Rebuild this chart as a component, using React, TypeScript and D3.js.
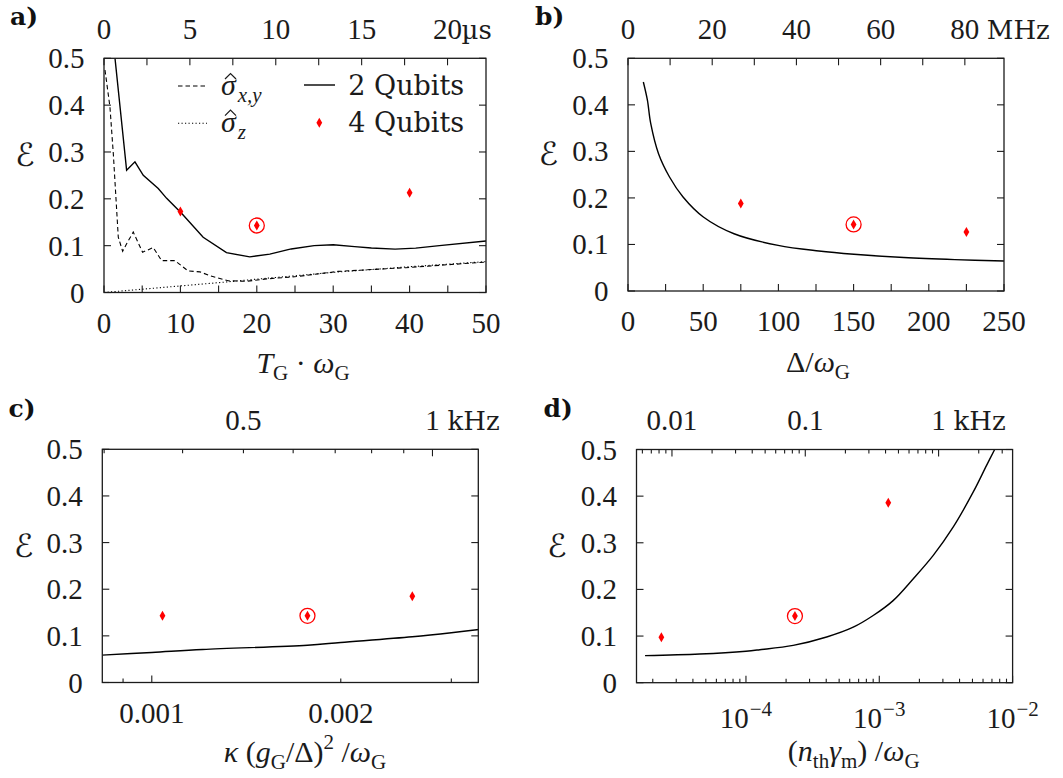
import { useEffect, useRef } from "react";
import * as d3 from "d3";

// ---------- a) error vs gate time ----------
const gateTimes2q = [1.44, 2.96, 4.05, 5.14, 7.1, 8.2, 10.15, 12.98, 16.03, 19.08, 21.7, 24.5, 27.5, 30, 32.8, 35, 38.1, 40.8, 43.9, 50];
const err2q = [0.5, 0.261, 0.279, 0.25, 0.222, 0.201, 0.169, 0.118, 0.085, 0.076, 0.082, 0.093, 0.1, 0.102, 0.098, 0.095, 0.0925, 0.0947, 0.1, 0.11];
const gateTimesXY = [0.13, 0.78, 1.22, 1.87, 2.44, 2.96, 3.83, 5.05, 6.45, 7.54, 9.28, 11.02, 12.55, 13.86, 16.25, 18.65, 21.26, 25.2, 30.6, 39.5, 50];
const errXY = [0.475, 0.396, 0.296, 0.118, 0.088, 0.104, 0.129, 0.086, 0.096, 0.068, 0.068, 0.046, 0.044, 0.036, 0.025, 0.024, 0.029, 0.034, 0.045, 0.053, 0.065];
const gateTimesZ = [0, 5, 10, 15, 20, 30, 40, 50];
const errZ = [0, 0.007, 0.014, 0.021, 0.0285, 0.043, 0.055, 0.066];
const gateTimes4q = [10, 20, 40];
const err4qA = [0.173, 0.143, 0.213];
const gateTicks = [0, 5, 10, 15, 20, 25, 30, 35, 40, 45, 50];
const gateLabels = [0, 10, 20, 30, 40, 50];
const usTicks = [0, 2.5, 5, 7.5, 10, 12.5, 15, 17.5, 20];
const usLabels = [0, 5, 10, 15, 20];

// ---------- b) error vs detuning ----------
const detuning = [10.2, 12.9, 15.1, 20.3, 27.6, 36.6, 50.1, 70.5, 99.8, 126.9, 150.2, 183.4, 217.3, 250];
const errDet = [0.449, 0.41, 0.36, 0.295, 0.245, 0.202, 0.159, 0.123, 0.098, 0.086, 0.079, 0.072, 0.0675, 0.0645];
const detuning4q = [75, 150, 225];
const err4qB = [0.188, 0.143, 0.127];
const detTicks = [0, 25, 50, 75, 100, 125, 150, 175, 200, 225, 250];
const detLabels = [0, 50, 100, 150, 200, 250];
const mhzTicks = [0, 10, 20, 30, 40, 50, 60, 70, 80];
const mhzLabels = [0, 20, 40, 60, 80];

// ---------- c) error vs cavity decay ----------
const kappa = [0.000832, 0.001, 0.001205, 0.00177, 0.002, 0.0026, 0.003, 0.00332];
const errKappa = [0.0587, 0.0644, 0.0708, 0.08, 0.0858, 0.098, 0.1066, 0.1137];
const kappa4q = [0.00104, 0.00177, 0.0026];
const err4qC = [0.143, 0.143, 0.185];
const kappaMajor = [0.001];
const kappaMinor = [0.0009, 0.002, 0.003];
const kappaLabels = ["0.001", "0.002"];
const khzCMajor = [1];
const khzCMinor = [0.3, 0.4, 0.5, 0.6, 0.7, 0.8, 0.9];

// ---------- d) error vs thermal heating ----------
const heating = [1.75e-5, 4.5e-5, 1e-4, 1.27e-4, 2.26e-4, 4.03e-4, 6.38e-4, 9e-4, 1.27e-3, 1.8e-3, 2.54e-3, 3.59e-3, 5.07e-3, 6.38e-3, 7.37e-3];
const errHeat = [0.058, 0.0615, 0.0675, 0.0707, 0.08, 0.098, 0.119, 0.144, 0.176, 0.223, 0.273, 0.334, 0.409, 0.466, 0.501];
const heating4q = [2.32e-5, 2.33e-4, 1.168e-3];
const err4qD = [0.0974, 0.1429, 0.386];
const heatMajor = [1e-4, 1e-3, 1e-2];
const heatExp = ["−4", "−3", "−2"];
const khzDMajor = [0.01, 0.1, 1];
const khzDLabels = ["0.01", "0.1"];

const errTicks = [0, 0.1, 0.2, 0.3, 0.4, 0.5];

const INK = "#1b1b1b";
const RED = "#ff0000";
const NUM = "'Liberation Serif', 'Times New Roman', serif";
const WORD = "'DejaVu Serif', serif";

type Box = { l: number; r: number; t: number; b: number };
const boxA: Box = { l: 104, r: 486, t: 58.3, b: 292.5 };
const boxB: Box = { l: 628, r: 1004, t: 58.3, b: 291 };
const boxC: Box = { l: 102.3, r: 478.3, t: 449.3, b: 682.5 };
const boxD: Box = { l: 636.5, r: 1012.6, t: 449.5, b: 682.7 };

const logMinors = (lo: number, hi: number) => {
  const out: number[] = [];
  for (let e = Math.floor(Math.log10(lo)); e <= Math.ceil(Math.log10(hi)); e++) {
    for (let k = 2; k <= 9; k++) {
      const v = k * Math.pow(10, e);
      if (v > lo && v < hi) out.push(v);
    }
  }
  return out;
};

function num(g: any, x: number, y: number, s: string, anchor = "middle") {
  return g
    .append("text")
    .attr("x", x)
    .attr("y", y)
    .attr("text-anchor", anchor)
    .attr("font-family", NUM)
    .attr("font-size", 29)
    .attr("fill", INK)
    .text(s);
}

function word(g: any, x: number, y: number, s: string, size = 26) {
  return g
    .append("text")
    .attr("x", x)
    .attr("y", y)
    .attr("font-family", WORD)
    .attr("font-size", size)
    .attr("fill", INK)
    .text(s);
}

function ticksX(g: any, scale: any, values: number[], box: Box, side: "top" | "bottom", len: number) {
  values.forEach((v) => {
    const px = scale(v);
    const y0 = side === "bottom" ? box.b : box.t;
    const y1 = side === "bottom" ? box.b - len : box.t + len;
    g.append("line")
      .attr("x1", px).attr("x2", px).attr("y1", y0).attr("y2", y1)
      .attr("stroke", INK).attr("stroke-width", 1.1);
  });
}

function base(svg: any, id: string, box: Box, y: any, letter: string, letterPos: [number, number], epsPos: [number, number]) {
  const g = svg.append("g");
  g.append("clipPath")
    .attr("id", id)
    .append("rect")
    .attr("x", box.l).attr("y", box.t)
    .attr("width", box.r - box.l).attr("height", box.b - box.t);

  errTicks.forEach((v) => {
    g.append("line").attr("x1", box.l).attr("x2", box.l + 7).attr("y1", y(v)).attr("y2", y(v))
      .attr("stroke", INK).attr("stroke-width", 1.1);
    g.append("line").attr("x1", box.r).attr("x2", box.r - 7).attr("y1", y(v)).attr("y2", y(v))
      .attr("stroke", INK).attr("stroke-width", 1.1);
    num(g, box.l - 19.5, y(v), v === 0 ? "0" : d3.format(".1f")(v), "end").attr("dominant-baseline", "central");
  });

  g.append("text")
    .attr("x", letterPos[0]).attr("y", letterPos[1])
    .attr("font-family", WORD).attr("font-weight", "bold").attr("font-size", 25)
    .attr("fill", "#111").text(letter);

  g.append("text")
    .attr("x", epsPos[0]).attr("y", epsPos[1])
    .attr("text-anchor", "middle").attr("dominant-baseline", "central")
    .attr("font-family", "'DejaVu Serif', 'DejaVu Sans', serif").attr("font-size", 32)
    .attr("fill", INK).text("ℰ");
  return g;
}

function frame(g: any, box: Box) {
  g.append("rect")
    .attr("x", box.l).attr("y", box.t)
    .attr("width", box.r - box.l).attr("height", box.b - box.t)
    .attr("fill", "none").attr("stroke", INK).attr("stroke-width", 1.3);
}

function curve(g: any, id: string, x: any, y: any, xs: number[], ys: number[], smooth: boolean, dash?: string, width = 1.4) {
  const line = d3
    .line<number>()
    .x((d, i) => x(xs[i]))
    .y((d) => y(d))
    .curve(smooth ? d3.curveCatmullRom.alpha(0.5) : d3.curveLinear);
  const p = g.append("path")
    .attr("d", line(ys))
    .attr("fill", "none")
    .attr("stroke", "#000")
    .attr("stroke-width", width)
    .attr("clip-path", `url(#${id})`);
  if (dash) p.attr("stroke-dasharray", dash);
}

function diamonds(g: any, x: any, y: any, xs: number[], ys: number[], circled: number) {
  const sym = d3.symbol().type(d3.symbolDiamond).size(29);
  xs.forEach((v, i) => {
    g.append("path")
      .attr("d", sym())
      .attr("transform", `translate(${x(v)},${y(ys[i])})`)
      .attr("fill", RED);
    if (i === circled) {
      g.append("circle")
        .attr("cx", x(v)).attr("cy", y(ys[i])).attr("r", 7.5)
        .attr("fill", "none").attr("stroke", RED).attr("stroke-width", 1.3);
    }
  });
}

function mathLabel(g: any, cx: number, y: number, parts: [string, string][]) {
  const t = g.append("text")
    .attr("x", cx).attr("y", y)
    .attr("text-anchor", "middle")
    .attr("font-family", NUM).attr("font-size", 30).attr("fill", INK);
  let shift = 0;
  parts.forEach(([k, s]) => {
    const sp = t.append("tspan").text(s);
    let target = 0;
    let size = 30;
    if (k === "sub") { target = 7; size = 21; }
    if (k === "sup") { target = -13; size = 21; }
    if (k === "i") sp.attr("font-style", "italic");
    sp.attr("font-size", size);
    if (target !== shift) { sp.attr("dy", target - shift); shift = target; }
  });
}

function drawA(svg: any) {
  const box = boxA;
  const x = d3.scaleLinear().domain([0, 50]).range([box.l, box.r]);
  const xTop = d3.scaleLinear().domain([0, 22.24]).range([box.l, box.r]);
  const y = d3.scaleLinear().domain([0, 0.5]).range([box.b, box.t]);
  const g = base(svg, "clipA", box, y, "a)", [10, 25], [25, 155]);

  ticksX(g, x, gateTicks, box, "bottom", 7);
  ticksX(g, xTop, usTicks, box, "top", 7);
  gateLabels.forEach((v) => num(g, x(v), box.b + 40.5, String(v)));
  usLabels.forEach((v) => num(g, xTop(v), box.t - 19.3, String(v)));
  word(g, xTop(20) + 14, box.t - 19.3, "µs");

  curve(g, "clipA", x, y, gateTimesZ, errZ, false, "1.2,2.3", 1.1);
  curve(g, "clipA", x, y, gateTimesXY, errXY, false, "4.5,3", 1.1);
  curve(g, "clipA", x, y, gateTimes2q, err2q, false);
  diamonds(g, x, y, gateTimes4q, err4qA, 1);

  // legend
  g.append("line").attr("x1", 178).attr("x2", 208).attr("y1", 86).attr("y2", 86)
    .attr("stroke", "#000").attr("stroke-width", 1.1).attr("stroke-dasharray", "4.5,3");
  g.append("line").attr("x1", 178).attr("x2", 207).attr("y1", 123.3).attr("y2", 123.3)
    .attr("stroke", "#000").attr("stroke-width", 1.1).attr("stroke-dasharray", "1.2,2.3");
  g.append("line").attr("x1", 304).attr("x2", 335).attr("y1", 85).attr("y2", 85)
    .attr("stroke", "#000").attr("stroke-width", 1.4);
  g.append("path")
    .attr("d", d3.symbol().type(d3.symbolDiamond).size(29)())
    .attr("transform", "translate(319.3,122.7)").attr("fill", RED);

  const sig = (yb: number, sub: string) => {
    const t = g.append("text").attr("x", 221).attr("y", yb)
      .attr("font-family", NUM).attr("font-size", 30).attr("fill", INK);
    t.append("tspan").attr("font-style", "italic").text("σ");
    t.append("tspan").attr("font-style", "italic").attr("font-size", 21).attr("dy", 7).attr("dx", 2).text(sub);
    // hat accent
    g.append("path")
      .attr("d", `M${225},${yb - 16} L${230.5},${yb - 21.5} L${236},${yb - 16}`)
      .attr("fill", "none").attr("stroke", INK).attr("stroke-width", 1.2);
  };
  sig(95, "x,y");
  sig(131.7, "z");
  word(g, 348.3, 95, "2 Qubits", 27);
  word(g, 348.3, 131.7, "4 Qubits", 27);

  mathLabel(g, 303, 373, [["i", "T"], ["sub", "G"], ["r", " · "], ["i", "ω"], ["sub", "G"]]);
  frame(g, box);
}

function drawB(svg: any) {
  const box = boxB;
  const x = d3.scaleLinear().domain([0, 250]).range([box.l, box.r]);
  const xTop = d3.scaleLinear().domain([0, 89.3]).range([box.l, box.r]);
  const y = d3.scaleLinear().domain([0, 0.5]).range([box.b, box.t]);
  const g = base(svg, "clipB", box, y, "b)", [535, 25], [548.5, 154]);

  ticksX(g, x, detTicks, box, "bottom", 7);
  ticksX(g, xTop, mhzTicks, box, "top", 7);
  detLabels.forEach((v) => num(g, x(v), box.b + 39.5, String(v)));
  mhzLabels.forEach((v) => num(g, xTop(v), box.t - 19.3, String(v)));
  word(g, xTop(80) + 22, box.t - 19.3, "MHz");

  curve(g, "clipB", x, y, detuning, errDet, true);
  diamonds(g, x, y, detuning4q, err4qB, 1);

  mathLabel(g, 818, 372, [["r", "Δ/"], ["i", "ω"], ["sub", "G"]]);
  frame(g, box);
}

function drawC(svg: any) {
  const box = boxC;
  const x = d3.scaleLog().domain([0.000834, 0.003312]).range([box.l, box.r]);
  const xTop = d3.scaleLog().domain([0.298, 1.183]).range([box.l, box.r]);
  const y = d3.scaleLinear().domain([0, 0.5]).range([box.b, box.t]);
  const g = base(svg, "clipC", box, y, "c)", [8.5, 417], [23.7, 546]);

  ticksX(g, x, kappaMajor, box, "bottom", 7);
  ticksX(g, x, kappaMinor, box, "bottom", 4);
  ticksX(g, xTop, khzCMajor, box, "top", 7);
  ticksX(g, xTop, khzCMinor, box, "top", 4);
  [0.001, 0.002].forEach((v, i) => num(g, x(v), box.b + 40.8, kappaLabels[i]));
  num(g, xTop(0.5), box.t - 19.3, "0.5");
  num(g, xTop(1), box.t - 19.3, "1");
  word(g, xTop(1) + 15, box.t - 19.3, "kHz");

  curve(g, "clipC", x, y, kappa, errKappa, true);
  diamonds(g, x, y, kappa4q, err4qC, 1);

  mathLabel(g, 305, 762, [
    ["i", "κ"], ["r", " ("], ["i", "g"], ["sub", "G"], ["r", "/Δ)"], ["sup", "2"], ["r", " /"], ["i", "ω"], ["sub", "G"],
  ]);
  frame(g, box);
}

function drawD(svg: any) {
  const box = boxD;
  const x = d3.scaleLog().domain([1.51e-5, 1e-2]).range([box.l, box.r]);
  const xTop = d3.scaleLog().domain([0.00542, 3.59]).range([box.l, box.r]);
  const y = d3.scaleLinear().domain([0, 0.5]).range([box.b, box.t]);
  const g = base(svg, "clipD", box, y, "d)", [543.6, 417], [557, 546]);

  ticksX(g, x, heatMajor, box, "bottom", 7);
  ticksX(g, x, logMinors(1.51e-5, 1e-2), box, "bottom", 4);
  ticksX(g, xTop, khzDMajor, box, "top", 7);
  ticksX(g, xTop, logMinors(0.00542, 3.59), box, "top", 4);

  heatMajor.forEach((v, i) => {
    const t = g.append("text")
      .attr("x", x(v)).attr("y", box.b + 45.5)
      .attr("text-anchor", "middle")
      .attr("font-family", NUM).attr("font-size", 29).attr("fill", INK);
    t.append("tspan").text("10");
    t.append("tspan").attr("font-size", 21).attr("dy", -12).attr("dx", 1).text(heatExp[i]);
  });
  [0.01, 0.1].forEach((v, i) => num(g, xTop(v), box.t - 19.3, khzDLabels[i]));
  num(g, xTop(1), box.t - 19.3, "1");
  word(g, xTop(1) + 15, box.t - 19.3, "kHz");

  curve(g, "clipD", x, y, heating, errHeat, true);
  diamonds(g, x, y, heating4q, err4qD, 1);

  mathLabel(g, 853.7, 761, [
    ["r", "("], ["i", "n"], ["sub", "th"], ["i", "γ"], ["sub", "m"], ["r", ") /"], ["i", "ω"], ["sub", "G"],
  ]);
  frame(g, box);
}

export default function App() {
  const ref = useRef<SVGSVGElement>(null);

  useEffect(() => {
    const svg = d3.select(ref.current);
    svg.selectAll("*").remove();
    drawA(svg);
    drawB(svg);
    drawC(svg);
    drawD(svg);
  }, []);

  return (
    <svg
      ref={ref}
      width={1063}
      height={778}
      style={{ position: "absolute", left: 0, top: 0, background: "#fff" }}
    />
  );
}
